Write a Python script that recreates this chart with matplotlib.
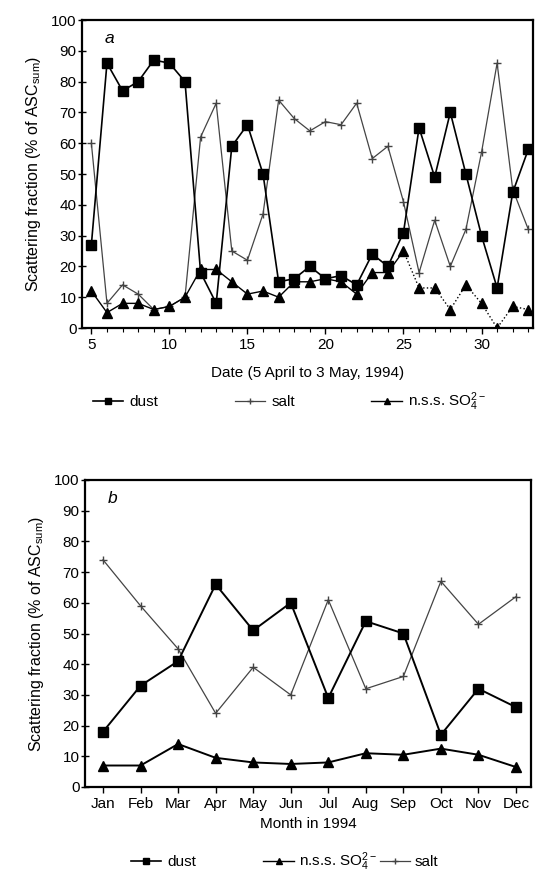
import matplotlib
matplotlib.use("Agg")
import matplotlib.pyplot as plt
import numpy as np
from matplotlib.lines import Line2D

plt.rcParams['font.family'] = ['Liberation Sans', 'DejaVu Sans']
plt.rcParams['mathtext.fontset'] = 'custom'
plt.rcParams['mathtext.rm'] = 'Liberation Sans'
plt.rcParams['mathtext.it'] = 'Liberation Sans:italic'

# ---- Panel a data (5 April to 3 May 1994) ----
days = list(range(5, 34))
dust_a = [27, 86, 77, 80, 87, 86, 80, 18, 8, 59, 66, 50, 15, 16, 20, 16, 17, 14, 24, 20, 31, 65, 49, 70, 50, 30, 13, 44, 58]
salt_a = [60, 8, 14, 11, 6, 7, 10, 62, 73, 25, 22, 37, 74, 68, 64, 67, 66, 73, 55, 59, 41, 18, 35, 20, 32, 57, 86, 45, 32]
so4_a = [12, 5, 8, 8, 6, 7, 10, 19, 19, 15, 11, 12, 10, 15, 15, 16, 15, 11, 18, 18, 25, 13, 13, 6, 14, 8, 0, 7, 6]
xticks_a = [5, 10, 15, 20, 25, 30]

# ---- Panel b data (monthly 1994) ----
months = ['Jan', 'Feb', 'Mar', 'Apr', 'May', 'Jun', 'Jul', 'Aug', 'Sep', 'Oct', 'Nov', 'Dec']
dust_b = [18, 33, 41, 66, 51, 60, 29, 54, 50, 17, 32, 26]
salt_b = [74, 59, 45, 24, 39, 30, 61, 32, 36, 67, 53, 62]
so4_b = [7, 7, 14, 9.5, 8, 7.5, 8, 11, 10.5, 12.5, 10.5, 6.5]

ylabel = r'Scattering fraction (% of ASC$_{\mathrm{sum}}$)'
so4_label = r'n.s.s. SO$_4^{2-}$'

W, H = 536, 877
fig = plt.figure(figsize=(W / 100, H / 100), dpi=100)

def style_axis(ax):
    ax.set_ylim(0, 100)
    ax.set_yticks(range(0, 101, 10))
    ax.tick_params(axis='y', direction='inout', length=6, width=1, labelsize=11, pad=1)
    ax.tick_params(axis='x', direction='out', length=4, width=1, labelsize=11)
    for s in ax.spines.values():
        s.set_linewidth(1.6)
    ax.set_ylabel(ylabel, fontsize=11.5, labelpad=6)

# Panel a
ax1 = fig.add_axes([82 / W, 1 - 328 / H, 451 / W, 308 / H])
ax1.plot(days, salt_a, color='#444444', lw=0.9, marker='+', ms=6, mew=1.0, zorder=2)
n_split = days.index(25) + 1
ax1.plot(days[:n_split], so4_a[:n_split], color='black', lw=1.0, zorder=3)
ax1.plot(days[n_split - 1:], so4_a[n_split - 1:], color='black', lw=1.0, ls=':', zorder=3)
ax1.plot(days, so4_a, color='black', lw=0, marker='^', ms=7.5, zorder=4)
ax1.plot(days, dust_a, color='black', lw=1.2, marker='s', ms=6.5, zorder=5)
ax1.set_xlim(4.4, 33.3)
ax1.set_xticks(xticks_a)
ax1.set_xticks(days, minor=True)
ax1.tick_params(axis='x', which='minor', direction='out', length=3, width=0.8)
style_axis(ax1)
ax1.set_xlabel('Date (5 April to 3 May, 1994)', fontsize=11, labelpad=10)
ax1.text(0.05, 0.94, 'a', transform=ax1.transAxes, fontsize=12.5, style='italic', va='center')

h_dust = Line2D([], [], color='black', lw=1.2, marker='s', ms=4)
h_salt = Line2D([], [], color='#444444', lw=0.9, marker='+', ms=5)
h_so4 = Line2D([], [], color='black', lw=1.0, marker='^', ms=5)
fig.legend([h_dust, h_salt, h_so4], ['dust', 'salt', so4_label], loc='center',
           bbox_to_anchor=(0.54, 1 - 402 / H), ncol=3, frameon=False, fontsize=11,
           columnspacing=5.0, handlelength=2.0, handletextpad=0.4)

# Panel b
ax2 = fig.add_axes([85 / W, 1 - 787 / H, 446 / W, 307 / H])
xm = np.arange(1, 13)
ax2.plot(xm, salt_b, color='#444444', lw=0.9, marker='+', ms=6, mew=1.0, zorder=2)
ax2.plot(xm, so4_b, color='black', lw=1.4, marker='^', ms=7.5, zorder=3)
ax2.plot(xm, dust_b, color='black', lw=1.4, marker='s', ms=6.5, zorder=4)
ax2.set_xlim(0.52, 12.4)
ax2.set_xticks(xm)
ax2.set_xticklabels(months)
style_axis(ax2)
ax2.set_xlabel('Month in 1994', fontsize=11, labelpad=4)
ax2.text(0.05, 0.94, 'b', transform=ax2.transAxes, fontsize=12.5, style='italic', va='center')

leg_b1 = fig.legend([h_dust], ['dust'], loc='center',
                    bbox_to_anchor=(0.305, 1 - 862 / H), frameon=False, fontsize=11,
                    handlelength=2.0, handletextpad=0.4)
fig.legend([h_so4, h_salt], [so4_label, 'salt'], loc='center',
           bbox_to_anchor=(0.655, 1 - 862 / H), ncol=2, frameon=False, fontsize=11,
           columnspacing=0.2, handlelength=2.0, handletextpad=0.3)

fig.savefig('out.png', dpi=100, facecolor='white')
